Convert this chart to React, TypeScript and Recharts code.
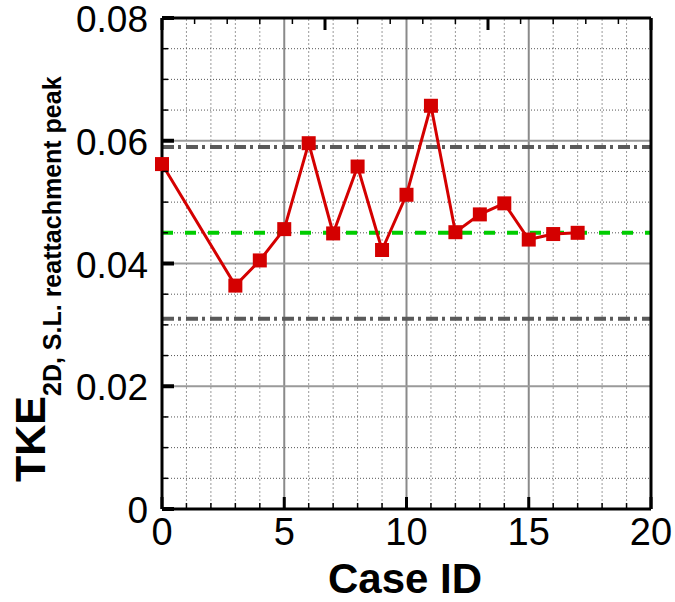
import React from "react";
import { LineChart, Line, XAxis, YAxis, ReferenceLine } from "recharts";

// Case ID (1 and 2 are missing in the plot)
const caseIds = [0, 3, 4, 5, 6, 7, 8, 9, 10, 11, 12, 13, 14, 15, 16, 17];
// TKE_2D at the shear-layer reattachment peak
const tkePeak = [
  0.0562, 0.0364, 0.0405, 0.0456, 0.0596, 0.0449, 0.0558, 0.0422, 0.0512, 0.0657,
  0.0451, 0.048, 0.0498, 0.0439, 0.0448, 0.045,
];

const meanLevel = 0.045;
const bandLevels = [0.031, 0.059];

const xTicks = [0, 1, 2, 3, 4, 5, 6, 7, 8, 9, 10, 11, 12, 13, 14, 15, 16, 17, 18, 19, 20];
const xMajor = [0, 5, 10, 15, 20];
const yTicks = [
  0, 0.005, 0.01, 0.015, 0.02, 0.025, 0.03, 0.035, 0.04, 0.045, 0.05, 0.055, 0.06,
  0.065, 0.07, 0.075, 0.08,
];
const yMajor = [0, 0.02, 0.04, 0.06, 0.08];

const data = caseIds.map((c, i) => ({ caseId: c, tke: tkePeak[i] }));

const FONT = "'Liberation Sans', Arial, Helvetica, sans-serif";
const RED = "#d40000";

const isMajorX = (v: number) => xMajor.includes(v);
const isMajorY = (v: number) => yMajor.some((m) => Math.abs(m - v) < 1e-9);
const fmtY = (v: number) => (v === 0 ? "0" : v.toFixed(2));

// ticks point inward, like the original plot
function BottomTick(props: any) {
  const { x, y, payload } = props;
  const major = isMajorX(payload.value);
  return (
    <g>
      <line x1={x} x2={x} y1={y} y2={y - (major ? 12 : 6)} stroke="#000" strokeWidth={major ? 3 : 1.5} />
      {major && (
        <text x={x} y={y + 36} textAnchor="middle" fontFamily={FONT} fontSize={38} fill="#000">
          {payload.value}
        </text>
      )}
    </g>
  );
}

function TopTick(props: any) {
  const { x, y, payload } = props;
  const major = isMajorX(payload.value);
  return <line x1={x} x2={x} y1={y} y2={y + (major ? 12 : 6)} stroke="#000" strokeWidth={major ? 3 : 1.5} />;
}

function LeftTick(props: any) {
  const { x, y, payload } = props;
  const major = isMajorY(payload.value);
  return (
    <g>
      <line x1={x} x2={x + (major ? 12 : 6)} y1={y} y2={y} stroke="#000" strokeWidth={major ? 4 : 1.5} />
      {major && (
        <text x={x - 14} y={y + 14} textAnchor="end" fontFamily={FONT} fontSize={37} fill="#000">
          {fmtY(payload.value)}
        </text>
      )}
    </g>
  );
}

function RightTick(props: any) {
  const { x, y, payload } = props;
  const major = isMajorY(payload.value);
  return <line x1={x} x2={x - (major ? 12 : 6)} y1={y} y2={y} stroke="#000" strokeWidth={major ? 4 : 1.5} />;
}

function YTitle() {
  return (
    <text transform="rotate(-90, 45, 482)" x={45} y={482} fontFamily={FONT} fontWeight="bold" fill="#000">
      <tspan fontSize={43}>TKE</tspan>
      <tspan fontSize={25} dy={16}>
        2D, S.L. reattachment peak
      </tspan>
    </text>
  );
}

function XTitle() {
  return (
    <text x={405} y={593} textAnchor="middle" fontFamily={FONT} fontWeight="bold" fontSize={42} fill="#000">
      Case ID
    </text>
  );
}

function SquareDot(p: any) {
  return <rect key={p.index} x={p.cx - 7} y={p.cy - 7} width={14} height={14} fill={RED} />;
}

export default function App() {
  const axisLine = { stroke: "#000", strokeWidth: 3 };
  return (
    <div style={{ position: "absolute", left: 0, top: 0, background: "#fff" }}>
      <LineChart width={675} height={602} data={data} margin={{ top: 0, right: 0, bottom: 0, left: 0 }}>
        <XAxis
          dataKey="caseId"
          type="number"
          domain={[0, 20]}
          ticks={xTicks}
          interval={0}
          tickSize={0}
          tickMargin={0}
          height={93}
          axisLine={axisLine}
          tick={<BottomTick />}
          label={<XTitle />}
        />
        <XAxis
          xAxisId="top"
          orientation="top"
          type="number"
          domain={[0, 20]}
          ticks={xTicks}
          interval={0}
          tickSize={0}
          tickMargin={0}
          height={18}
          axisLine={axisLine}
          tick={<TopTick />}
        />
        <YAxis
          type="number"
          domain={[0, 0.08]}
          ticks={yTicks}
          interval={0}
          tickSize={0}
          tickMargin={0}
          width={162}
          axisLine={axisLine}
          tick={<LeftTick />}
          label={<YTitle />}
        />
        <YAxis
          yAxisId="right"
          orientation="right"
          type="number"
          domain={[0, 0.08]}
          ticks={yTicks}
          interval={0}
          tickSize={0}
          tickMargin={0}
          width={24}
          axisLine={axisLine}
          tick={<RightTick />}
        />

        {/* minor grid */}
        {xTicks.filter((v) => !isMajorX(v)).map((v) => (
          <ReferenceLine key={`mx${v}`} x={v} stroke="#9a9a9a" strokeWidth={1} strokeDasharray="2 2" />
        ))}
        {yTicks.filter((v) => !isMajorY(v)).map((v) => (
          <ReferenceLine key={`my${v}`} y={v} stroke="#555" strokeWidth={1} strokeDasharray="1 2" />
        ))}
        {/* major grid */}
        {xMajor.slice(1, -1).map((v) => (
          <ReferenceLine key={`Mx${v}`} x={v} stroke="#8a8a8a" strokeWidth={2} />
        ))}
        {yMajor.slice(1, -1).map((v) => (
          <ReferenceLine key={`My${v}`} y={v} stroke="#9a9a9a" strokeWidth={2} />
        ))}

        {bandLevels.map((v) => (
          <ReferenceLine key={`b${v}`} y={v} stroke="#5a5a5a" strokeWidth={4} strokeDasharray="12 4 3 5" />
        ))}
        <ReferenceLine y={meanLevel} stroke="#00cc00" strokeWidth={4} strokeDasharray="11 12" />

        <Line
          dataKey="tke"
          stroke={RED}
          strokeWidth={3}
          dot={SquareDot}
          activeDot={false}
          isAnimationActive={false}
        />
      </LineChart>
    </div>
  );
}
